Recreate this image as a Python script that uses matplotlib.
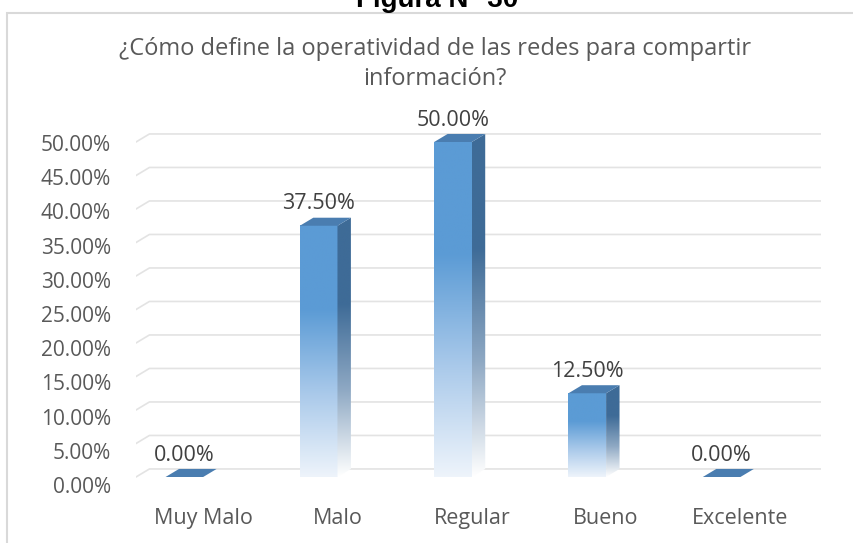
import matplotlib.pyplot as plt
import numpy as np
from matplotlib.patches import Polygon, Rectangle
from matplotlib.colors import LinearSegmentedColormap

plt.rcParams['font.family'] = ['Open Sans', 'DejaVu Sans']

categorias = ['Muy Malo', 'Malo', 'Regular', 'Bueno', 'Excelente']
valores = [0.0, 37.5, 50.0, 12.5, 0.0]
etiquetas = ['0.00%', '37.50%', '50.00%', '12.50%', '0.00%']
yticks = [0, 5, 10, 15, 20, 25, 30, 35, 40, 45, 50]
titulo1 = '¿Cómo define la operatividad de las redes para compartir'
titulo2 = 'información?'

fig = plt.figure(figsize=(8.54, 5.43), dpi=100)
ax = fig.add_axes([136 / 854, 1 - 490.4 / 543, (821 - 136) / 854, (490.4 - 128.6) / 543])

ax.set_xlim(-0.5, 4.6)
ax.set_ylim(-2, 52)

w = 0.28      # front face width
dx = 0.10     # depth in x
dy = 1.2      # depth in y

azul = '#5B9BD5'
lado = '#3E6B97'
tapa = '#4A7DB0'
cmap_front = LinearSegmentedColormap.from_list('f', ['#EEF4FB', '#A9C9EA', azul, azul])
cmap_side = LinearSegmentedColormap.from_list('s', ['#FFFFFF', '#8FA9C4', lado, lado])

# back gridlines with the small diagonal of the side wall
for v in yticks:
    ax.plot([-0.5, -0.5 + dx, 4.6], [v, v + dy, v + dy], color='#E3E3E3', lw=1.2, zorder=1)

grad = np.linspace(0, 1, 256).reshape(-1, 1)
for i, v in enumerate(valores):
    x0 = i - w
    x1 = i
    if v > 0:
        ax.imshow(grad, extent=[x0, x1, 0, v], origin='lower', cmap=cmap_front,
                  aspect='auto', zorder=3, interpolation='bilinear')
        side = Polygon([[x1, 0], [x1 + dx, dy], [x1 + dx, v + dy], [x1, v]], closed=True,
                       facecolor='none', edgecolor='none')
        ax.add_patch(side)
        im2 = ax.imshow(grad, extent=[x1, x1 + dx, 0, v + dy], origin='lower', cmap=cmap_side,
                        aspect='auto', zorder=3, interpolation='bilinear')
        im2.set_clip_path(side)
    top = Polygon([[x0, v], [x1, v], [x1 + dx, v + dy], [x0 + dx, v + dy]], closed=True,
                  facecolor=tapa, edgecolor='none', zorder=4)
    ax.add_patch(top)
    ax.annotate(etiquetas[i], (i - w / 2, v + dy), xytext=(0, 10), textcoords='offset points',
                ha='center', va='center', fontsize=15.5, color='#404040', zorder=5)

ax.set_xticks(range(len(categorias)))
ax.set_xticklabels(categorias)
# axis labels sit on the front edge of the 3D floor, slightly lower than the walls
ax.set_yticks([1.021 * v - 1.2 for v in yticks])
ax.set_yticklabels(['%.2f%%' % v for v in yticks])
ax.tick_params(axis='both', length=0, labelcolor='#595959')
ax.tick_params(axis='x', pad=13, labelsize=15.5)
ax.tick_params(axis='y', pad=18, labelsize=15)
for s in ax.spines.values():
    s.set_visible(False)

fig.text(435 / 854, 1 - 49 / 543, titulo1, ha='center', va='center', fontsize=17, color='#595959')
fig.text(435 / 854, 1 - 79 / 543, titulo2, ha='center', va='center', fontsize=17, color='#595959')
fig.text(437 / 854, 1 - 7 / 543, 'Figura N° 30', ha='center', va='baseline', fontsize=20,
         fontweight='bold', color='black', family=['Liberation Sans', 'DejaVu Sans'])
fig.add_artist(Rectangle((7 / 854, -0.2), 1.2, 1.2 - 13 / 543, transform=fig.transFigure,
                         facecolor='none', edgecolor='#D9D9D9', lw=1.5))

fig.savefig('out.png', dpi=100)
